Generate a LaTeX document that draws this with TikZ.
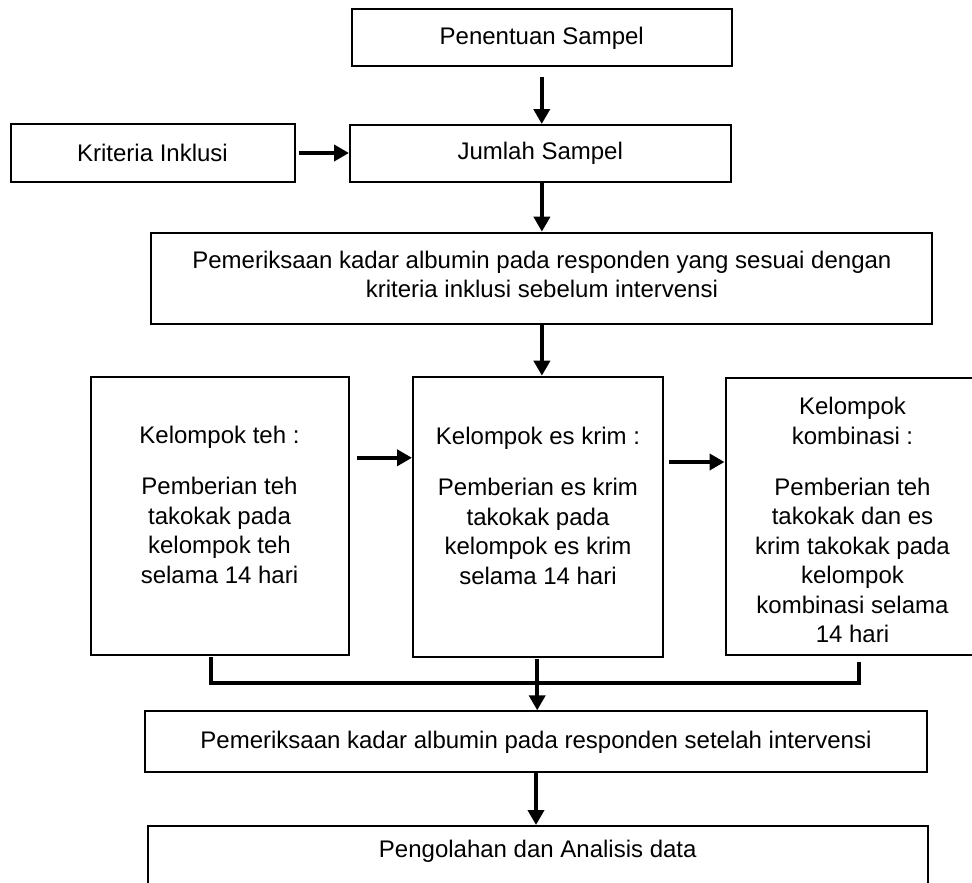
\documentclass[tikz,border=0pt]{standalone}
\usepackage{fontspec}
\setmainfont{Liberation Sans}
\usetikzlibrary{arrows.meta,calc}
\begin{document}
\begin{tikzpicture}[x=1pt,y=-1pt,
  box/.style={draw=black,line width=2pt,rectangle,inner sep=0pt},
  txt/.style={font=\fontsize{24}{29.5}\selectfont,align=center,inner sep=0pt},
  arr/.style={line width=4pt,-{Triangle[length=15pt,width=16pt]}},
  conn/.style={line width=3.6pt}]
\clip (0,0) rectangle (972,883);
\fill[white] (0,0) rectangle (972,883);
% boxes
\node[box,txt,minimum width=380.5pt,minimum height=57.2pt] (pen) at (541.75,37.9) {Penentuan Sampel};
\node[box,txt,minimum width=284pt,minimum height=57.4pt] (kri) at (152.5,153) {Kriteria Inklusi};
\node[box,txt,minimum width=380.5pt,minimum height=57pt] (jum) at (540.25,153.5) {Jumlah Sampel};
\node[box,minimum width=781pt,minimum height=91.3pt] (pem) at (541.9,278.3) {};
\node[txt] (pemt) at (541.9,274.5) {Pemeriksaan kadar albumin pada responden yang sesuai dengan\\kriteria inklusi sebelum intervensi};
\node[box,minimum width=258pt,minimum height=278.3pt] (teh) at (220,515.8) {};
\node[box,minimum width=250.4pt,minimum height=280.6pt] (esk) at (538.2,517) {};
\node[box,minimum width=254pt,minimum height=276.7pt] (kom) at (852.5,516.7) {};
\node[txt] (teht) at (219.5,505) {Kelompok teh :\\[21.5pt]Pemberian teh\\takokak pada\\kelompok teh\\selama 14 hari};
\node[txt] (eskt) at (538,506) {Kelompok es krim :\\[21.5pt]Pemberian es krim\\takokak pada\\kelompok es krim\\selama 14 hari};
\node[txt] (komt) at (852.5,520) {Kelompok\\kombinasi :\\[21.5pt]Pemberian teh\\takokak dan es\\krim takokak pada\\kelompok\\kombinasi selama\\14 hari};
\node[box,txt,minimum width=782pt,minimum height=61pt] (set) at (536,741.8) {Pemeriksaan kadar albumin pada responden setelah intervensi};
\node[box,minimum width=780.5pt,minimum height=90pt] (peng) at (537.75,871) {};
\node[txt] (pengt) at (537.75,851) {Pengolahan dan Analisis data};
% connectors
\draw[arr] ($(pen.south)+(0,9.5)$) -- (pen.south |- jum.north);
\draw[arr] ($(kri.east)+(3,0)$) -- (kri.east -| jum.west);
\draw[arr] (pem.north |- jum.south) -- (pem.north);
\draw[arr] (pem.south) -- (pem.south |- esk.north);
\draw[arr] ($(teh.east)+(7,-58)$) -- ($(teh.east -| esk.west)+(0,-58)$);
\draw[arr] ($(esk.east)+(5,-55)$) -- ($(esk.east -| kom.west)+(0,-55)$);
\draw[conn] ($(teh.south)+(-9,1)$) |- ($(kom.south)+(6.5,27)$) -- ($(kom.south)+(6.5,6)$);
\draw[arr] ($(esk.south)+(-1,1)$) -- ($(esk.south |- set.north)+(-1,0)$);
\draw[arr] (set.south) -- (set.south |- peng.north);
\end{tikzpicture}
\end{document}
